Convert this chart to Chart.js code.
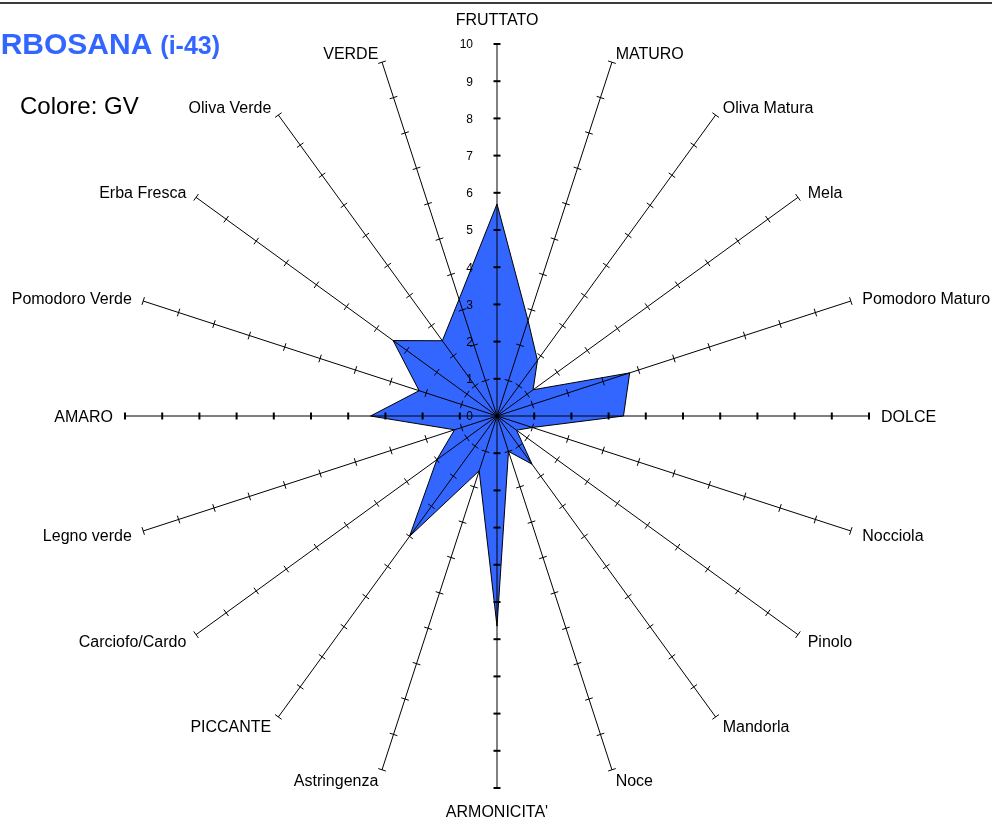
<!DOCTYPE html>
<html>
<head>
<meta charset="utf-8">
<script src="https://cdn.jsdelivr.net/npm/chart.js@4.4.1/dist/chart.umd.min.js"></script>
<style>
  html, body { margin: 0; padding: 0; background: #fff; }
  #wrap { position: relative; width: 992px; height: 821px; overflow: hidden; }
</style>
</head>
<body>
<div id="wrap"><canvas id="radarChart" width="992" height="821"></canvas></div>
<script>
const attributes = [
  "FRUTTATO", "MATURO", "Oliva Matura", "Mela", "Pomodoro Maturo",
  "DOLCE", "Nocciola", "Pinolo", "Mandorla", "Noce",
  "ARMONICITA'", "Astringenza", "PICCANTE", "Carciofo/Cardo", "Legno verde",
  "AMARO", "Pomodoro Verde", "Erba Fresca", "Oliva Verde", "VERDE",
];
const scores = [
  5.7, 2.7, 1.85, 1.2, 3.75,
  3.4, 1.0, 0.65, 1.6, 1.0,
  5.65, 1.55, 4.0, 2.0, 1.2,
  3.4, 2.2, 3.45, 2.5, 3.3,
];
const tickValues = [0, 1, 2, 3, 4, 5, 6, 7, 8, 9, 10];
const oliveName = "ARBOSANA";
const oliveCode = "(i-43)";
const colourNote = "Colore: GV";

const labelFont = '16px "Liberation Sans", Arial, sans-serif';

// spoke ticks, scale numbers, axis names and header text
const decorations = {
  id: "decorations",
  afterDraw(chart) {
    const ctx = chart.ctx;
    const scale = chart.scales.r;
    const n = attributes.length;
    ctx.save();

    // top rule
    ctx.fillStyle = "#3c3c3c";
    ctx.fillRect(0, 2, chart.width, 2);

    // tick marks on every spoke
    ctx.strokeStyle = "#000";
    for (let i = 0; i < n; i++) {
      const a = scale.getIndexAngle(i) - Math.PI / 2;
      const px = -Math.sin(a), py = Math.cos(a);
      const main = i % 5 === 0;
      const half = main ? 3.5 : 4;
      ctx.lineWidth = main ? 2 : 1;
      tickValues.forEach((v) => {
        if (v === 0) return;
        const p = scale.getPointPositionForValue(i, v);
        ctx.beginPath();
        ctx.moveTo(p.x - px * half, p.y - py * half);
        ctx.lineTo(p.x + px * half, p.y + py * half);
        ctx.stroke();
      });
    }

    // scale numbers left of the vertical spoke
    ctx.fillStyle = "#000";
    ctx.font = '12px "Liberation Sans", Arial, sans-serif';
    ctx.textAlign = "right";
    ctx.textBaseline = "middle";
    tickValues.forEach((v) => {
      const p = scale.getPointPositionForValue(0, v);
      ctx.fillText(String(v), p.x - 24, p.y + 1);
    });

    // axis names
    ctx.font = labelFont;
    for (let i = 0; i < n; i++) {
      const a = scale.getIndexAngle(i);
      const s = Math.sin(a), c = Math.cos(a);
      const p = scale.getPointPositionForValue(i, scale.max);
      const x = p.x + 12 * s;
      let y = p.y + 2 - 10.5 * c;
      if (Math.abs(c) > 0.99) y = p.y + (c > 0 ? -23.5 : 25);
      ctx.textAlign = s > 0.05 ? "left" : s < -0.05 ? "right" : "center";
      ctx.fillText(attributes[i], x, y);
    }

    // header
    ctx.fillStyle = "#3366ff";
    ctx.textAlign = "left";
    ctx.textBaseline = "alphabetic";
    ctx.font = 'bold 30px "Liberation Sans", Arial, sans-serif';
    ctx.fillText(oliveName, -21, 54);
    const w = ctx.measureText(oliveName).width;
    ctx.font = 'bold 25px "Liberation Sans", Arial, sans-serif';
    ctx.fillText(oliveCode, -21 + w + 8, 54);

    ctx.fillStyle = "#000";
    ctx.font = '24px "Liberation Sans", Arial, sans-serif';
    ctx.fillText(colourNote, 20, 114);
    ctx.restore();
  },
};

const radarCtx = document.getElementById("radarChart").getContext("2d");
const radarChart = new Chart(radarCtx, {
  type: "radar",
  data: {
    labels: attributes,
    datasets: [
      {
        label: oliveName,
        data: scores,
        backgroundColor: "#3366ff",
        borderColor: "#000",
        borderWidth: 1,
        pointRadius: 0,
        pointHoverRadius: 0,
        fill: true,
      },
    ],
  },
  options: {
    responsive: false,
    animation: false,
    layout: { padding: { left: 125, right: 123, top: 44, bottom: 33 } },
    elements: { line: { tension: 0, borderJoinStyle: "miter" } },
    plugins: {
      legend: { display: false },
      tooltip: { enabled: false },
    },
    scales: {
      r: {
        min: 0,
        max: 10,
        ticks: { display: false, stepSize: 1, z: 1 },
        grid: { display: false, z: 1 },
        angleLines: { display: true, color: "#000", lineWidth: 1 },
        pointLabels: { display: false },
      },
    },
  },
  plugins: [decorations],
});
</script>
</body>
</html>
